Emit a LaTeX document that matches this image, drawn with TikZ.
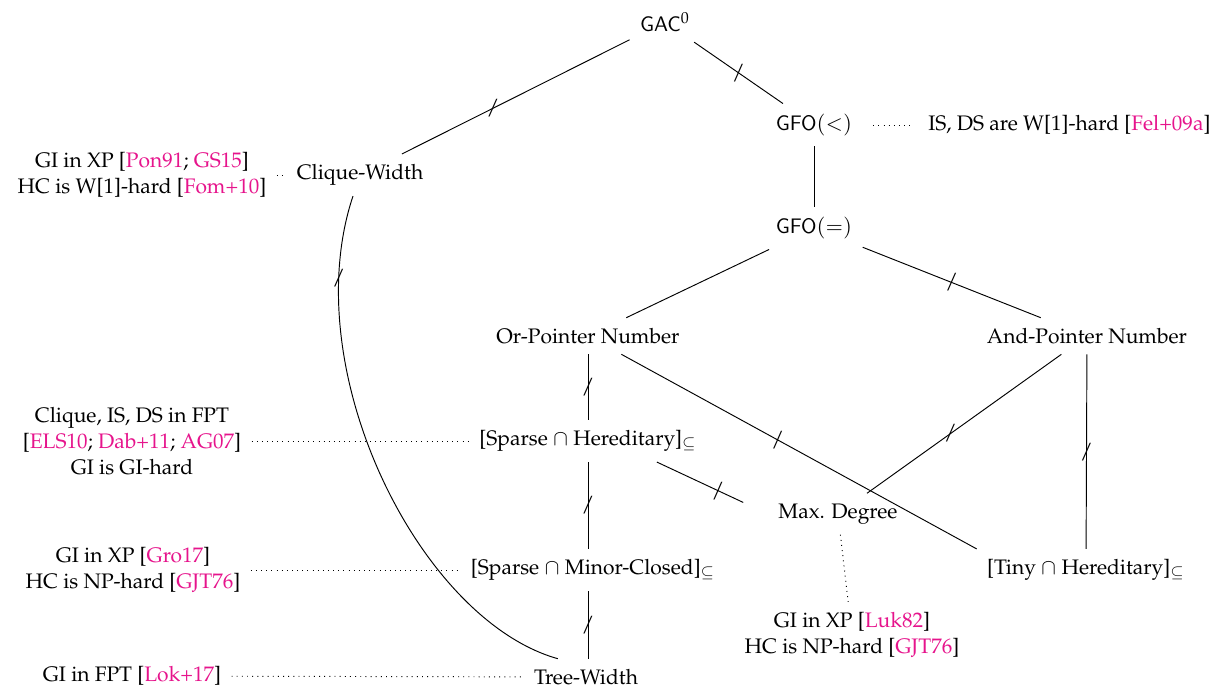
\documentclass[tikz,border=0pt]{standalone}
\usepackage[T1]{fontenc}
\usepackage{mathpazo}
\usepackage{amssymb}
\definecolor{citec}{RGB}{230,20,140}
\newcommand{\cit}[1]{\textcolor{citec}{#1}}
\begin{document}
\begin{tikzpicture}[x=0.476pt,y=-0.476pt,
  every node/.style={inner sep=3pt,outer sep=2pt,font=\fontsize{10}{12.4}\selectfont},
  cls/.style={},
  note/.style={align=center},
  edge/.style={draw,line width=0.45pt},
  dotl/.style={draw,line width=0.45pt,dotted},
  tick/.style={midway,inner sep=0pt,outer sep=0pt}]
\useasboundingbox (0,0) rectangle (1222,691);
% classes
\node[cls] (gac) at (665,22) {$\mathsf{GAC}^0$};
\node[cls] (gfl) at (814,125) {$\mathsf{GFO}(<)$};
\node[cls] (gfe) at (814,228) {$\mathsf{GFO}(=)$};
\node[cls] (cw)  at (360,175) {Clique-Width};
\node[cls] (op)  at (588,336) {Or-Pointer Number};
\node[cls] (ap)  at (1087,336) {And-Pointer Number};
\node[cls] (sh)  at (588,441) {[Sparse $\cap$ Hereditary]$_{\subseteq}$};
\node[cls] (md)  at (838,514) {Max. Degree};
\node[cls] (th)  at (1086,570) {[Tiny $\cap$ Hereditary]$_{\subseteq}$};
\node[cls] (sm)  at (593,570) {[Sparse $\cap$ Minor-Closed]$_{\subseteq}$};
\node[cls] (tw)  at (586,677) {Tree-Width};
% notes
\node[note,anchor=east] (gfn) at (1221,125) {IS, DS are W[1]-hard [\cit{Fel+09a}]};
\node[note] (cwn) at (142,175) {GI in XP [\cit{Pon91}; \cit{GS15}]\\HC is W[1]-hard [\cit{Fom+10}]};
\node[note] (shn) at (132,441) {Clique, IS, DS in FPT\\{}[\cit{ELS10}; \cit{Dab+11}; \cit{AG07}]\\GI is GI-hard};
\node[note] (smn) at (133,570) {GI in XP [\cit{Gro17}]\\HC is NP-hard [\cit{GJT76}]};
\node[note] (twn) at (132,676) {GI in FPT [\cit{Lok+17}]};
\node[note] (mdn) at (852,635) {GI in XP [\cit{Luk82}]\\HC is NP-hard [\cit{GJT76}]};
% edges
\path[edge] (gac) -- node[tick,pos=0.6]{$/$} (cw);
\path[edge] (gac) -- node[tick]{$/$} (gfl);
\path[edge] (gfl) -- (gfe);
\path[edge] (gfe) -- (op);
\path[edge] (gfe) -- node[tick]{$/$} (ap);
\path[edge] (op.south) -- node[tick]{$/$} (op.south |- sh.north);
\path[edge] (op) -- node[tick,pos=0.44]{$/$} (th.north west);
\path[edge] (ap) -- node[tick,pos=0.57]{$/$} (md);
\path[edge] (ap) -- node[tick]{$/$} (th);
\path[edge,shorten >=13pt] (sh.-17) -- node[tick,pos=0.55]{$/$} (md.west);
\path[edge] (op.south |- sh.south) -- node[tick]{$/$} (op.south |- sm.north);
\path[edge] (op.south |- sm.south) -- node[tick]{$/$} (op.south |- tw.north);
\path[edge] (cw) .. controls (295,370) and (420,620) .. node[pos=0.15,inner sep=0pt,outer sep=0pt]{$/$} (tw.147);
% dotted
\path[dotl,shorten <=5pt,shorten >=2pt] (gfl) -- (gfn);
\path[dotl] (cwn) -- (cw);
\path[dotl] (shn) -- (sh);
\path[dotl] (smn) -- (sm);
\path[dotl] (twn) -- (tw);
\path[dotl] (md) -- (mdn);
\end{tikzpicture}
\end{document}
